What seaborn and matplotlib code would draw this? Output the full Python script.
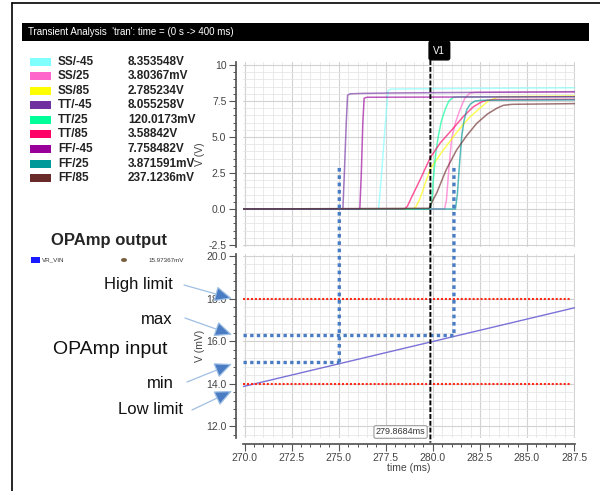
import numpy as np
import pandas as pd
import matplotlib
matplotlib.use("Agg")
import matplotlib.pyplot as plt
from matplotlib.patches import Rectangle, ConnectionPatch, Ellipse
from matplotlib.lines import Line2D
from matplotlib.ticker import MultipleLocator, FuncFormatter
import seaborn as sns

sns.set_theme(style="ticks")
plt.rcParams["font.family"] = ["Liberation Sans", "DejaVu Sans"]

# --- data -------------------------------------------------------------------
corners = ["SS/-45", "SS/25", "SS/85", "TT/-45", "TT/25", "TT/85",
           "FF/-45", "FF/25", "FF/85"]
cursor_readout = ["8.353548V", "3.80367mV", "2.785234V", "8.055258V",
                  "120.0173mV", "3.58842V", "7.758482V", "3.871591mV",
                  "237.1236mV"]
corner_colors = ["#80ffff", "#ff66cc", "#ffff00", "#7030a0", "#00ff99",
                 "#ff0066", "#990099", "#009999", "#6b2a2a"]

# output transients (ms, V)
t_ss_m45 = [269.9, 277.12, 277.25, 277.45, 277.62, 277.75, 279.0, 287.6]
v_ss_m45 = [0, 0, 2.0, 5.5, 8.2, 8.33, 8.35, 8.42]
t_ss_25 = [269.9, 280.62, 280.72, 280.85, 281.0, 281.2, 281.44, 281.7, 281.97, 282.2, 287.6]
v_ss_25 = [0, 0, 0.6, 2.8, 4.9, 6.0, 6.9, 7.7, 8.05, 8.1, 8.12]
t_ss_85 = [269.9, 278.95, 279.1, 279.31, 279.6, 279.87, 280.5, 281.08, 281.5, 281.97, 282.5, 282.94, 283.5, 287.6]
v_ss_85 = [0, 0, 0.15, 0.7, 1.8, 2.79, 4.0, 5.0, 5.7, 6.4, 7.0, 7.5, 7.8, 7.85]
t_tt_m45 = [269.9, 275.22, 275.3, 275.4, 275.47, 275.6, 276.3, 278.0, 287.6]
v_tt_m45 = [0, 0, 2.5, 6.0, 7.9, 8.0, 8.03, 8.06, 8.15]
t_tt_25 = [269.9, 279.8, 279.87, 279.95, 280.02, 280.15, 280.28, 280.45, 280.65, 280.85, 281.08, 281.3, 287.6]
v_tt_25 = [0, 0, 0.12, 0.6, 2.0, 3.8, 5.0, 6.1, 6.9, 7.5, 7.75, 7.78, 7.8]
t_tt_85 = [269.9, 278.5, 278.65, 278.9, 279.31, 279.87, 280.4, 281.08, 281.6, 282.15, 282.6, 282.86, 283.3, 287.6]
v_tt_85 = [0, 0, 0.2, 0.9, 2.0, 3.59, 4.6, 5.6, 6.4, 7.1, 7.45, 7.55, 7.6, 7.62]
t_ff_m45 = [269.9, 276.12, 276.2, 276.28, 276.35, 276.5, 287.6]
v_ff_m45 = [0, 0, 2.5, 6.0, 7.7, 7.76, 7.8]
t_ff_25 = [269.9, 281.2, 281.3, 281.42, 281.53, 281.65, 281.8, 282.0, 282.24, 282.6, 287.6]
v_ff_25 = [0, 0, 1.0, 3.2, 5.0, 6.1, 6.9, 7.3, 7.5, 7.55, 7.58]
t_ff_85 = [269.9, 279.8, 279.87, 280.0, 280.2, 280.7, 281.26, 281.8, 282.33, 282.9, 283.4, 283.74, 284.2, 287.6]
v_ff_85 = [0, 0.05, 0.24, 0.6, 1.1, 2.7, 4.1, 5.1, 5.95, 6.6, 7.0, 7.2, 7.27, 7.32]

# op-amp input ramp (ms, mV)
vin_time = [269.9, 287.6]
vin_mv = [13.86, 17.58]

cursor_t = 279.8684
vin_readout = "15.97367mV"
high_limit, low_limit = 18.0, 14.0
min_time, min_level = 275.03, 15.0
max_time, max_level = 281.12, 16.3
marker_top = 2.85              # where the dotted markers start on the V(V) pane

ann_labels = ["High limit", "max", "min", "Low limit"]
ann_targets = [18.0, 16.3, 14.93, 13.66]

curves_t = [t_ss_m45, t_ss_25, t_ss_85, t_tt_m45, t_tt_25, t_tt_85, t_ff_m45, t_ff_25, t_ff_85]
curves_v = [v_ss_m45, v_ss_25, v_ss_85, v_tt_m45, v_tt_25, v_tt_85, v_ff_m45, v_ff_25, v_ff_85]
frames = []
for name, t, v in zip(corners, curves_t, curves_v):
    frames.append(pd.DataFrame({"time": t, "voltage": v, "corner": name}))
df_out = pd.concat(frames, ignore_index=True)
df_in = pd.DataFrame({"time": vin_time, "mv": vin_mv})

# --- figure -------------------------------------------------------------------
W, H = 600, 491
fig = plt.figure(figsize=(W / 100, H / 100), dpi=100)


def fx(px):
    return px / W


def fy(py):
    return 1 - py / H


xlim = (269.915, 287.55)
ax_top = fig.add_axes([fx(243), fy(247), fx(332), (247 - 62) / H])
ax_bot = fig.add_axes([fx(243), fy(438), fx(332), (438 - 254) / H])

sns.lineplot(data=df_out, x="time", y="voltage", hue="corner", hue_order=corners,
             palette=dict(zip(corners, corner_colors)), estimator=None, sort=False,
             legend=False, linewidth=1.1, alpha=0.65, ax=ax_top)
sns.lineplot(data=df_in, x="time", y="mv", color="#7b72d8", linewidth=1.0, ax=ax_bot)

ax_top.set_xlim(*xlim)
ax_top.set_ylim(-2.64, 10.21)
ax_bot.set_xlim(*xlim)
ax_bot.set_ylim(11.45, 20.09)

for ax in (ax_top, ax_bot):
    ax.xaxis.set_major_locator(MultipleLocator(2.5))
    ax.xaxis.set_minor_locator(MultipleLocator(0.5))
    ax.grid(which="major", color="#d2d2d2", lw=0.8)
    ax.grid(which="minor", color="#e6e6e6", lw=0.6)
    ax.set_axisbelow(True)
    ax.spines[["top", "right"]].set_visible(False)
    ax.spines["left"].set_position(("outward", 5))
    ax.spines["left"].set_color("#555555")
    ax.tick_params(axis="both", which="major", direction="out", length=5, width=0.8,
                   color="#555555", labelsize=7.5, labelcolor="#444444", pad=2)
    ax.tick_params(axis="both", which="minor", direction="out", length=2.5, width=0.7,
                   color="#555555")

ax_top.yaxis.set_major_locator(MultipleLocator(2.5))
ax_top.yaxis.set_minor_locator(MultipleLocator(0.5))
ax_top.yaxis.set_major_formatter(FuncFormatter(lambda v, _: "10" if abs(v - 10) < 1e-9 else f"{v:.1f}"))
ax_top.spines["bottom"].set_visible(False)
ax_top.tick_params(axis="x", which="both", bottom=False, labelbottom=False)
ax_top.set_xlabel("")
ax_top.set_ylabel("V (V)", fontsize=7.5, color="#444444")
ax_top.yaxis.set_label_coords(-0.115, 0.5)

ax_bot.yaxis.set_major_locator(MultipleLocator(2.0))
ax_bot.yaxis.set_minor_locator(MultipleLocator(0.4))
ax_bot.yaxis.set_major_formatter(FuncFormatter(lambda v, _: f"{v:.1f}"))
ax_bot.xaxis.set_major_formatter(FuncFormatter(lambda v, _: f"{v:.1f}"))
ax_bot.spines["bottom"].set_position(("outward", 4))
ax_bot.spines["bottom"].set_color("#555555")
ax_bot.set_xlabel("time (ms)", fontsize=7.5, color="#444444")
ax_bot.xaxis.set_label_coords(0.5, -0.135)
ax_bot.set_ylabel("V (mV)", fontsize=7.5, color="#444444")
ax_bot.yaxis.set_label_coords(-0.115, 0.5)

# spec limits and min / max markers
red_dots = dict(color="#ff2a1a", lw=1.5, linestyle=(0, (1, 0.9)))
ax_bot.hlines([high_limit, low_limit], xlim[0], 287.3, **red_dots)
blue_dots = dict(color="#4a7cc4", lw=2.4, linestyle=(0, (1, 1)))
ax_bot.hlines(min_level, xlim[0], min_time, **blue_dots)
ax_bot.hlines(max_level, xlim[0], max_time, **blue_dots)
for t, lvl in [(min_time, min_level), (max_time, max_level)]:
    con = ConnectionPatch(xyA=(t, marker_top), coordsA=ax_top.transData,
                          xyB=(t, lvl), coordsB=ax_bot.transData,
                          color="#4a7cc4", lw=2.4, linestyle=(0, (1.1, 1.1)),
                          capstyle="butt")
    fig.add_artist(con)

# cursor V1
cur = ConnectionPatch(xyA=(cursor_t, 1.01), coordsA=ax_top.get_xaxis_transform(),
                      xyB=(cursor_t, -0.025), coordsB=ax_bot.get_xaxis_transform(),
                      color="black", lw=1.4, linestyle=(0, (2.5, 1)), capstyle="butt")
fig.add_artist(cur)
ax_top.annotate("V1", xy=(cursor_t, 1.0), xycoords=ax_top.get_xaxis_transform(),
                xytext=(9, 11.5), textcoords="offset pixels", ha="center", va="center",
                color="white", fontsize=7, annotation_clip=False,
                bbox=dict(boxstyle="round,pad=0.45,rounding_size=0.2", fc="black", ec="black"))
ax_bot.annotate(f"{cursor_t}ms", xy=(cursor_t, 0.0), xycoords=ax_bot.get_xaxis_transform(),
                xytext=(-5, 6), textcoords="offset pixels", ha="right", va="center",
                color="#333333", fontsize=6.5, annotation_clip=False,
                bbox=dict(boxstyle="round,pad=0.2,rounding_size=0.2", fc="white", ec="#999999", lw=0.8))

# outer frame and title bar
fig.add_artist(Line2D([fx(12), fx(12)], [0, fy(3)], color="black", lw=1.2))
fig.add_artist(Line2D([fx(12), 1], [fy(3), fy(3)], color="black", lw=1.2))
fig.add_artist(Rectangle((fx(22), fy(41)), fx(567), 18 / H, transform=fig.transFigure,
                         fc="black", ec="none"))
fig.text(fx(28), fy(32), "Transient Analysis  'tran': time = (0 s -> 400 ms)",
         color="white", fontsize=7, va="center")

# corner legend with cursor readouts
for i, (name, val, col) in enumerate(zip(corners, cursor_readout, corner_colors)):
    yc = 61.7 + i * 14.55
    fig.add_artist(Rectangle((fx(30), fy(yc + 4)), fx(21), 8 / H, transform=fig.transFigure,
                             fc=col, ec="none"))
    fig.text(fx(58), fy(yc), name, fontsize=8.5, weight="bold", color="#222222", va="center")
    fig.text(fx(128), fy(yc), val, fontsize=8.5, weight="bold", color="#222222", va="center")

fig.text(fx(109), fy(241), "OPAmp output", fontsize=12, weight="bold", ha="center", va="center")
fig.add_artist(Rectangle((fx(31), fy(263)), fx(9), 6 / H, transform=fig.transFigure,
                         fc="#1a1aff", ec="none"))
fig.text(fx(42), fy(260), "VR_VIN", fontsize=4.5, color="#333333", va="center")
fig.add_artist(Ellipse((fx(124), fy(260)), fx(6), 4 / H, transform=fig.transFigure,
                       fc="#7a6040", ec="none"))
fig.text(fx(148), fy(260), vin_readout, fontsize=4.5, color="#333333", va="center")

# annotations on the input pane
fig.text(fx(110), fy(349), "OPAmp input", fontsize=14, ha="center", va="center", color="#111111")
ann_text_pos = [(173, 285), (173, 319), (174, 383), (183, 410)]
ann_arrow_start = [(184, 285), (185, 318), (187, 382), (192, 410)]
for lab, (tx, ty), (sx, sy), tgt in zip(ann_labels, ann_text_pos, ann_arrow_start, ann_targets):
    fig.text(fx(tx), fy(ty), lab, fontsize=12, ha="right", va="center", color="#111111")
    ax_bot.annotate("", xy=(-0.033, tgt), xycoords=("axes fraction", "data"),
                    xytext=(sx, H - sy), textcoords="figure pixels", annotation_clip=False,
                    arrowprops=dict(arrowstyle="-|>,head_length=0.9,head_width=0.4",
                                    ec="#9fbfe3", fc="#4a7cc4", lw=0.9,
                                    shrinkA=0, shrinkB=0))

fig.savefig("out.png", dpi=100)
